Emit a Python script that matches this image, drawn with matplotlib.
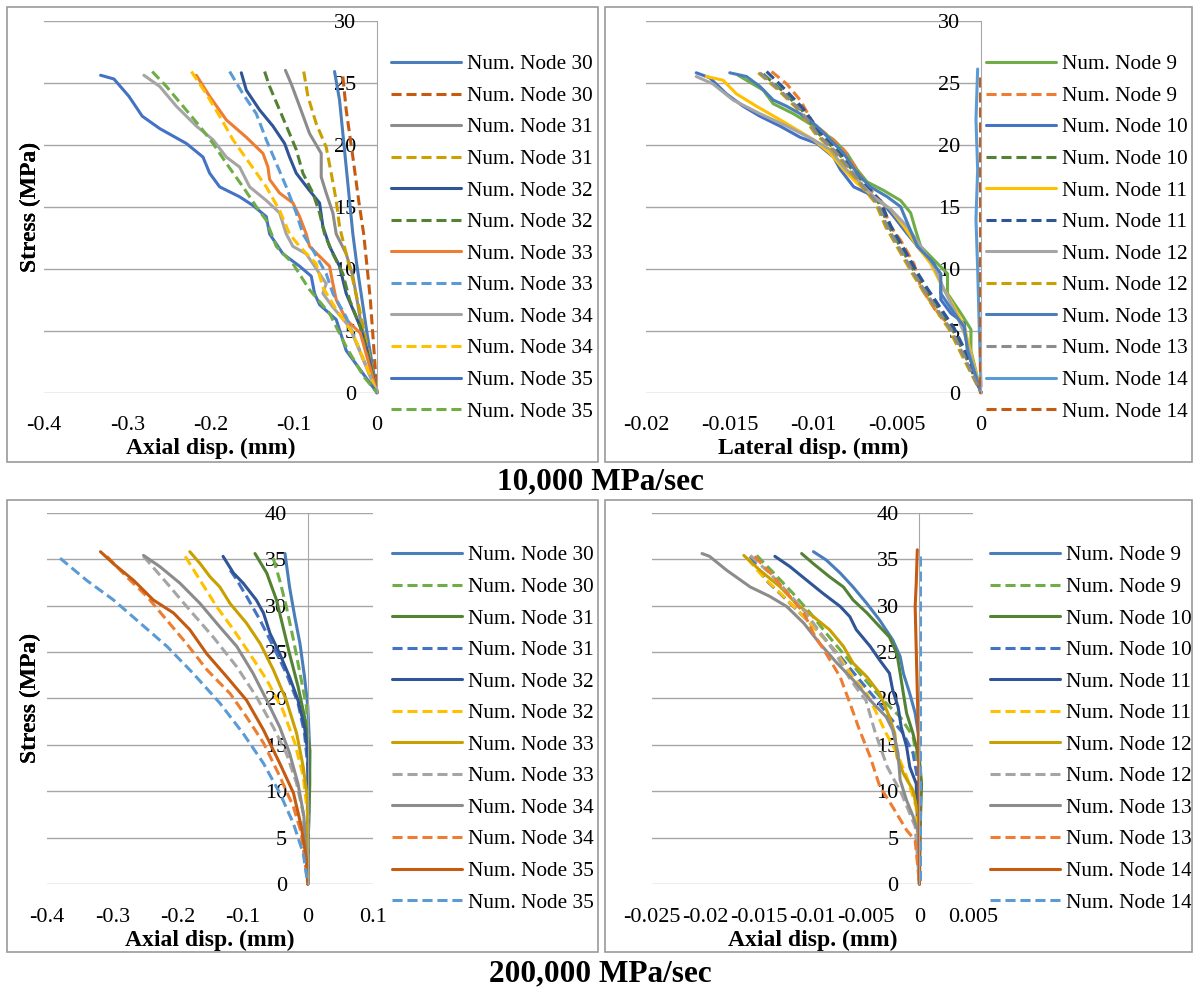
import matplotlib
matplotlib.use('Agg')
import matplotlib.pyplot as plt
from matplotlib.patches import Rectangle

plt.rcParams['font.family'] = 'Liberation Serif'

W, H = 1198, 990

# colours (Excel style)
c_steel = '#4A7EBB'
c_dkorange = '#C55A11'
c_gray = '#8C8C8C'
c_ltgray = '#A5A5A5'
c_gold = '#C9A000'
c_navy = '#2F5597'
c_dkgreen = '#548235'
c_orange = '#ED7D31'
c_ltblue = '#5B9BD5'
c_yellow = '#FFC000'
c_blue = '#4472C4'
c_green = '#70AD47'

# ---------------- 10,000 MPa/sec, axial disp (nodes 30-35) ----------------
a1_n30s_x = [-0.051, -0.045, -0.041, -0.037, -0.033, -0.029, -0.024, -0.018, -0.012, 0]
a1_n30s_y = [25.9, 23.6, 20.9, 18.2, 15.5, 12.8, 10.2, 7.5, 4.8, 0]
a1_n30d_x = [-0.041, -0.037, -0.029, -0.022, -0.016, -0.012, -0.008, 0]
a1_n30d_y = [25.5, 22.8, 19.0, 15.5, 12.8, 10.2, 7.5, 0]
a1_n31s_x = [-0.110, -0.103, -0.093, -0.081, -0.067, -0.067, -0.061, -0.053, -0.049, -0.037, -0.029, -0.024, -0.020, 0]
a1_n31s_y = [26.0, 24.9, 23.1, 20.9, 19.3, 17.4, 16.1, 14.5, 12.8, 11.2, 9.4, 7.5, 5.9, 0]
a1_n31d_x = [-0.088, -0.083, -0.073, -0.061, -0.055, -0.049, -0.045, -0.037, -0.029, -0.020, 0]
a1_n31d_y = [25.9, 23.9, 21.7, 19.8, 17.7, 15.5, 13.4, 11.2, 9.1, 6.4, 0]
a1_n32s_x = [-0.163, -0.157, -0.141, -0.125, -0.111, -0.105, -0.097, -0.081, -0.069, -0.065, -0.057, -0.045, -0.037, -0.020, -0.012, 0]
a1_n32s_y = [25.8, 24.4, 22.8, 21.5, 20.1, 19.0, 17.7, 16.3, 15.3, 13.4, 11.8, 10.2, 8.0, 5.3, 3.4, 0]
a1_n32d_x = [-0.135, -0.129, -0.117, -0.105, -0.097, -0.089, -0.077, -0.069, -0.063, -0.053, -0.041, -0.033, -0.020, 0]
a1_n32d_y = [25.9, 24.7, 22.8, 20.9, 19.6, 17.7, 16.1, 14.5, 12.8, 11.2, 9.6, 7.5, 5.3, 0]
a1_n33s_x = [-0.217, -0.201, -0.181, -0.157, -0.137, -0.131, -0.129, -0.117, -0.101, -0.093, -0.085, -0.081, -0.069, -0.057, -0.053, -0.049, -0.037, -0.020, 0]
a1_n33s_y = [25.6, 23.9, 22.0, 20.6, 19.3, 18.2, 17.2, 16.1, 15.3, 14.2, 12.8, 11.8, 11.0, 10.2, 8.8, 7.5, 5.9, 4.8, 0]
a1_n33d_x = [-0.177, -0.161, -0.145, -0.133, -0.121, -0.109, -0.097, -0.089, -0.077, -0.061, -0.053, -0.037, 0]
a1_n33d_y = [25.9, 24.1, 22.5, 20.4, 18.5, 16.6, 14.5, 12.8, 11.5, 9.6, 8.0, 6.1, 0]
a1_n34s_x = [-0.280, -0.261, -0.241, -0.217, -0.197, -0.181, -0.165, -0.153, -0.133, -0.117, -0.109, -0.101, -0.085, -0.061, -0.065, -0.053, -0.033, 0]
a1_n34s_y = [25.6, 24.7, 23.1, 21.5, 20.4, 19.0, 18.2, 16.6, 15.5, 14.5, 12.8, 11.8, 11.2, 8.8, 8.0, 6.9, 5.3, 0]
a1_n34d_x = [-0.223, -0.205, -0.189, -0.173, -0.153, -0.133, -0.117, -0.105, -0.093, -0.073, -0.065, -0.049, -0.029, 0]
a1_n34d_y = [25.9, 24.1, 22.3, 20.4, 18.5, 16.6, 14.7, 12.8, 11.8, 10.4, 8.5, 6.7, 4.8, 0]
a1_n35s_x = [-0.332, -0.316, -0.298, -0.282, -0.261, -0.229, -0.209, -0.201, -0.189, -0.165, -0.149, -0.133, -0.129, -0.113, -0.093, -0.079, -0.075, -0.069, -0.049, -0.037, 0]
a1_n35s_y = [25.6, 25.3, 23.9, 22.3, 21.3, 20.1, 19.0, 17.7, 16.6, 15.8, 15.1, 14.2, 12.8, 11.2, 10.2, 9.4, 8.0, 7.1, 5.9, 3.4, 0]
a1_n35d_x = [-0.270, -0.253, -0.233, -0.213, -0.197, -0.181, -0.161, -0.145, -0.133, -0.121, -0.101, -0.081, -0.057, -0.037, -0.016, 0]
a1_n35d_y = [25.9, 24.7, 23.1, 21.5, 20.1, 18.5, 16.6, 15.0, 13.9, 11.8, 10.4, 8.3, 6.4, 3.7, 1.3, 0]

# ---------------- 10,000 MPa/sec, lateral disp (nodes 9-14) ----------------
l1_n9s_x = [-0.0145, -0.0130, -0.0124, -0.0112, -0.0100, -0.0088, -0.0080, -0.0074, -0.0068, -0.0058, -0.0048, -0.0042, -0.0039, -0.0036, -0.0028, -0.0020, -0.0020, -0.0012, -0.0006, -0.0006, 0]
l1_n9s_y = [25.6, 24.4, 23.3, 22.5, 21.5, 20.4, 19.3, 18.0, 17.0, 16.3, 15.5, 14.5, 13.1, 11.8, 10.7, 9.6, 8.0, 6.4, 5.1, 3.4, 0]
l1_n9d_x = [-0.0125, -0.0116, -0.0108, -0.0100, -0.0090, -0.0082, -0.0074, -0.0068, -0.0060, -0.0054, -0.0048, -0.0040, -0.0036, -0.0026, -0.0016, -0.0008, 0]
l1_n9d_y = [25.9, 24.9, 23.6, 21.7, 20.6, 19.6, 18.0, 16.6, 15.5, 13.4, 12.3, 10.4, 8.5, 6.4, 5.1, 2.6, 0]
l1_n10s_x = [-0.0170, -0.0162, -0.0152, -0.0142, -0.0132, -0.0120, -0.0108, -0.0098, -0.0088, -0.0084, -0.0076, -0.0068, -0.0060, -0.0052, -0.0044, -0.0036, -0.0028, -0.0024, -0.0024, -0.0018, -0.0010, -0.0008, 0]
l1_n10s_y = [25.8, 25.4, 24.1, 23.1, 22.3, 21.5, 20.6, 20.1, 19.0, 18.0, 16.6, 16.1, 15.5, 14.2, 12.8, 11.5, 10.4, 8.8, 7.5, 6.4, 5.6, 3.4, 0]
l1_n10d_x = [-0.0130, -0.0119, -0.0107, -0.0097, -0.0087, -0.0077, -0.0069, -0.0061, -0.0055, -0.0047, -0.0039, -0.0033, -0.0025, -0.0017, -0.0009, 0]
l1_n10d_y = [25.7, 24.4, 22.8, 20.9, 19.6, 18.0, 16.6, 15.3, 13.4, 11.5, 9.6, 8.3, 6.7, 5.1, 2.9, 0]
l1_n11s_x = [-0.0164, -0.0154, -0.0146, -0.0134, -0.0116, -0.0100, -0.0090, -0.0082, -0.0074, -0.0064, -0.0054, -0.0046, -0.0038, -0.0030, -0.0024, -0.0016, -0.0010, 0]
l1_n11s_y = [25.5, 25.2, 24.1, 23.1, 21.7, 20.4, 19.3, 18.0, 16.9, 15.8, 14.8, 13.4, 11.8, 10.4, 8.8, 6.9, 5.3, 0]
l1_n11d_x = [-0.0128, -0.0118, -0.0106, -0.0096, -0.0086, -0.0076, -0.0068, -0.0060, -0.0054, -0.0046, -0.0038, -0.0032, -0.0024, -0.0016, -0.0008, 0]
l1_n11d_y = [25.9, 24.6, 22.9, 21.0, 19.7, 18.1, 16.7, 15.4, 13.5, 11.6, 9.7, 8.4, 6.8, 5.2, 3.0, 0]
l1_n12s_x = [-0.0170, -0.0160, -0.0148, -0.0132, -0.0116, -0.0100, -0.0090, -0.0082, -0.0074, -0.0064, -0.0054, -0.0044, -0.0036, -0.0028, -0.0022, -0.0016, -0.0010, 0]
l1_n12s_y = [25.5, 24.9, 23.6, 22.5, 21.5, 20.4, 19.6, 18.2, 17.2, 15.8, 14.8, 13.4, 11.8, 10.2, 8.3, 6.7, 4.8, 0]
l1_n12d_x = [-0.0133, -0.0121, -0.0109, -0.0099, -0.0089, -0.0079, -0.0071, -0.0063, -0.0057, -0.0049, -0.0041, -0.0035, -0.0027, -0.0019, -0.0011, 0]
l1_n12d_y = [25.8, 24.4, 22.8, 20.9, 19.6, 18.0, 16.6, 15.3, 13.4, 11.5, 9.6, 8.3, 6.7, 5.1, 2.9, 0]
l1_n13s_x = [-0.0150, -0.0140, -0.0132, -0.0124, -0.0116, -0.0108, -0.0098, -0.0090, -0.0082, -0.0074, -0.0066, -0.0056, -0.0048, -0.0044, -0.0038, -0.0030, -0.0024, -0.0024, -0.0016, -0.0010, -0.0008, 0]
l1_n13s_y = [25.8, 25.5, 24.7, 23.6, 23.1, 22.5, 21.5, 20.4, 19.3, 17.7, 16.6, 15.8, 15.0, 13.7, 11.8, 10.7, 9.6, 8.0, 6.4, 5.3, 3.4, 0]
l1_n13d_x = [-0.0132, -0.0120, -0.0108, -0.0098, -0.0088, -0.0078, -0.0070, -0.0062, -0.0056, -0.0048, -0.0040, -0.0034, -0.0026, -0.0018, -0.0010, 0]
l1_n13d_y = [25.8, 24.4, 22.8, 20.9, 19.6, 18.0, 16.6, 15.3, 13.4, 11.5, 9.6, 8.3, 6.7, 5.1, 2.9, 0]
l1_n14s_x = [-0.0002, -0.0003, -0.0002, -0.0003, -0.0002, -0.0001, 0]
l1_n14s_y = [26.1, 22.0, 18.0, 14.0, 10.0, 5.0, 0.5]
l1_n14d_x = [-0.00008, -0.00008]
l1_n14d_y = [25.5, 0]

# ---------------- 200,000 MPa/sec, axial disp (nodes 30-35) ----------------
a2_n30s_x = [-0.035, -0.028, -0.020, -0.012, -0.005, 0.0, 0.003, 0.001, 0]
a2_n30s_y = [35.6, 32.0, 28.8, 25.9, 22.3, 19.1, 14.4, 5.5, 0]
a2_n30d_x = [-0.053, -0.043, -0.033, -0.022, -0.012, -0.002, 0.002, 0.001, 0]
a2_n30d_y = [35.1, 32.7, 29.9, 26.3, 22.7, 19.1, 14.4, 5.5, 0]
a2_n31s_x = [-0.081, -0.063, -0.048, -0.038, -0.028, -0.015, -0.005, 0.003, 0.003, 0.001, 0]
a2_n31s_y = [35.6, 33.5, 30.6, 27.7, 24.8, 21.3, 18.0, 14.4, 10.8, 5.5, 0]
a2_n31d_x = [-0.119, -0.112, -0.094, -0.073, -0.053, -0.033, -0.015, -0.005, 0, 0]
a2_n31d_y = [33.8, 33.1, 31.0, 28.4, 25.6, 22.7, 19.5, 16.2, 12.6, 0]
a2_n32s_x = [-0.130, -0.114, -0.099, -0.079, -0.068, -0.058, -0.043, -0.028, -0.015, -0.005, 0, 0]
a2_n32s_y = [35.3, 33.5, 32.4, 30.6, 29.2, 27.0, 24.8, 22.3, 19.8, 16.9, 14.1, 0]
a2_n32d_x = [-0.188, -0.165, -0.140, -0.114, -0.089, -0.063, -0.038, -0.020, -0.007, 0, 0]
a2_n32d_y = [35.3, 32.7, 29.9, 27.4, 24.8, 22.0, 18.7, 15.2, 11.6, 7.3, 0]
a2_n33s_x = [-0.181, -0.165, -0.150, -0.135, -0.119, -0.094, -0.073, -0.053, -0.033, -0.017, -0.007, 0, 0]
a2_n33s_y = [35.8, 34.5, 33.1, 32.0, 30.2, 28.1, 25.9, 23.1, 19.8, 16.2, 12.6, 9.0, 0]
a2_n33d_x = [-0.252, -0.216, -0.181, -0.145, -0.109, -0.079, -0.053, -0.033, -0.017, -0.007, 0]
a2_n33d_y = [35.3, 32.4, 29.5, 26.6, 23.4, 20.2, 16.9, 14.1, 10.8, 7.6, 0]
a2_n34s_x = [-0.252, -0.227, -0.196, -0.165, -0.135, -0.109, -0.084, -0.063, -0.043, -0.028, -0.015, -0.006, 0]
a2_n34s_y = [35.4, 34.2, 32.4, 30.2, 27.7, 25.6, 22.7, 19.8, 16.9, 14.1, 10.8, 7.3, 0]
a2_n34d_x = [-0.308, -0.278, -0.247, -0.216, -0.186, -0.155, -0.119, -0.094, -0.068, -0.043, -0.022, -0.010, 0]
a2_n34d_y = [35.3, 33.1, 31.0, 28.4, 25.9, 23.1, 20.5, 18.0, 15.2, 11.6, 8.3, 5.5, 0]
a2_n35s_x = [-0.318, -0.298, -0.267, -0.237, -0.206, -0.181, -0.155, -0.124, -0.094, -0.068, -0.043, -0.022, -0.010, -0.002, 0]
a2_n35s_y = [35.8, 34.5, 32.7, 30.6, 29.2, 27.4, 24.8, 22.3, 19.8, 16.6, 13.0, 9.8, 6.2, 2.6, 0]
a2_n35d_x = [-0.380, -0.339, -0.298, -0.257, -0.216, -0.176, -0.135, -0.099, -0.068, -0.043, -0.022, -0.007, 0]
a2_n35d_y = [35.1, 32.7, 30.6, 28.1, 25.6, 22.7, 19.5, 16.2, 13.0, 9.8, 6.5, 3.3, 0]

# ---------------- 200,000 MPa/sec, axial disp (nodes 9-14) ----------------
b2_n9s_x = [-0.0099, -0.0087, -0.0074, -0.0062, -0.0049, -0.0037, -0.0025, -0.0018, -0.0015, -0.0009, -0.0004, -0.0001, 0, 0]
b2_n9s_y = [35.8, 34.9, 33.5, 32.0, 30.2, 28.4, 26.3, 24.5, 22.7, 20.5, 18.4, 16.2, 12.6, 0]
b2_n9d_x = [-0.0152, -0.0136, -0.0118, -0.0102, -0.0087, -0.0071, -0.0053, -0.0034, -0.0018, -0.0006, -0.0001, 0]
b2_n9d_y = [35.4, 33.5, 31.3, 29.2, 27.0, 24.8, 22.3, 19.8, 18.0, 15.9, 12.6, 0]
b2_n10s_x = [-0.0110, -0.0099, -0.0084, -0.0071, -0.0062, -0.0049, -0.0037, -0.0028, -0.0021, -0.0018, -0.0015, -0.0012, -0.0006, 0.0000, 0.0002, 0.0001, 0]
b2_n10s_y = [35.6, 34.5, 33.1, 32.0, 30.6, 29.2, 27.7, 26.6, 24.8, 22.7, 20.5, 18.4, 16.2, 13.4, 10.8, 7.3, 0]
b2_n10d_x = [-0.0158, -0.0143, -0.0124, -0.0108, -0.0093, -0.0074, -0.0056, -0.0040, -0.0028, -0.0015, -0.0006, -0.0001, 0]
b2_n10d_y = [35.3, 32.7, 30.6, 28.8, 27.0, 24.5, 22.0, 19.8, 18.0, 16.2, 14.1, 10.8, 0]
b2_n11s_x = [-0.0135, -0.0121, -0.0105, -0.0090, -0.0074, -0.0065, -0.0059, -0.0046, -0.0037, -0.0028, -0.0025, -0.0020, -0.0017, -0.0012, -0.0009, -0.0003, 0]
b2_n11s_y = [35.3, 34.2, 32.7, 31.3, 29.9, 28.8, 27.4, 25.6, 24.1, 22.7, 20.9, 19.1, 16.9, 14.8, 12.6, 10.8, 0]
b2_n11d_x = [-0.0161, -0.0146, -0.0127, -0.0108, -0.0093, -0.0077, -0.0062, -0.0049, -0.0040, -0.0031, -0.0021, -0.0012, -0.0003, 0]
b2_n11d_y = [35.1, 33.1, 31.0, 28.8, 27.0, 24.8, 22.3, 20.5, 18.4, 16.2, 14.1, 11.6, 8.3, 0]
b2_n12s_x = [-0.0164, -0.0149, -0.0130, -0.0115, -0.0099, -0.0084, -0.0071, -0.0062, -0.0049, -0.0037, -0.0028, -0.0023, -0.0021, -0.0015, -0.0006, -0.0001, 0]
b2_n12s_y = [35.4, 33.8, 32.0, 30.2, 28.8, 27.4, 25.6, 23.8, 22.3, 20.5, 18.0, 16.2, 13.7, 11.9, 10.1, 7.3, 0]
b2_n12d_x = [-0.0158, -0.0140, -0.0122, -0.0106, -0.0092, -0.0078, -0.0066, -0.0055, -0.0050, -0.0041, -0.0030, -0.0017, -0.0004, 0]
b2_n12d_y = [35.4, 33.5, 31.3, 29.2, 27.0, 24.8, 22.3, 20.5, 19.8, 16.2, 12.6, 9.8, 6.2, 0]
b2_n13s_x = [-0.0203, -0.0196, -0.0180, -0.0158, -0.0140, -0.0124, -0.0108, -0.0093, -0.0077, -0.0062, -0.0046, -0.0031, -0.0025, -0.0020, -0.0018, -0.0012, -0.0006, -0.0001, 0]
b2_n13s_y = [35.6, 35.3, 33.8, 32.0, 31.0, 29.9, 28.1, 25.9, 23.8, 22.0, 19.8, 18.0, 16.6, 14.1, 11.2, 9.0, 7.3, 5.5, 0]
b2_n13d_x = [-0.0154, -0.0136, -0.0121, -0.0108, -0.0099, -0.0087, -0.0074, -0.0065, -0.0056, -0.0046, -0.0037, -0.0025, -0.0012, -0.0004, 0]
b2_n13d_y = [35.3, 33.1, 31.0, 29.2, 27.0, 24.8, 22.3, 19.5, 16.6, 13.7, 10.5, 8.3, 5.8, 4.7, 0]
b2_n14s_x = [-0.0002, -0.0003, -0.0004, -0.0003, -0.0001, 0, 0]
b2_n14s_y = [36.0, 32.4, 29.9, 25.2, 16.2, 5.5, 0]
b2_n14d_x = [0.00005, 0.00005]
b2_n14d_y = [35.3, 0]

# axis ticks
p1_xticks = [-0.4, -0.3, -0.2, -0.1, 0]
p1_xlabels = ['-0.4', '-0.3', '-0.2', '-0.1', '0']
p2_xticks = [-0.02, -0.015, -0.01, -0.005, 0]
p2_xlabels = ['-0.02', '-0.015', '-0.01', '-0.005', '0']
p3_xticks = [-0.4, -0.3, -0.2, -0.1, 0, 0.1]
p3_xlabels = ['-0.4', '-0.3', '-0.2', '-0.1', '0', '0.1']
p4_xticks = [-0.025, -0.02, -0.015, -0.01, -0.005, 0, 0.005]
p4_xlabels = ['-0.025', '-0.02', '-0.015', '-0.01', '-0.005', '0', '0.005']
y_ticks_30 = [0, 5, 10, 15, 20, 25, 30]
y_ticks_40 = [0, 5, 10, 15, 20, 25, 30, 35, 40]

DASH = (0, (3.3, 1.6))

series1 = [
    ('Num. Node 30', a1_n30s_x, a1_n30s_y, c_steel, False),
    ('Num. Node 30', a1_n30d_x, a1_n30d_y, c_dkorange, True),
    ('Num. Node 31', a1_n31s_x, a1_n31s_y, c_gray, False),
    ('Num. Node 31', a1_n31d_x, a1_n31d_y, c_gold, True),
    ('Num. Node 32', a1_n32s_x, a1_n32s_y, c_navy, False),
    ('Num. Node 32', a1_n32d_x, a1_n32d_y, c_dkgreen, True),
    ('Num. Node 33', a1_n33s_x, a1_n33s_y, c_orange, False),
    ('Num. Node 33', a1_n33d_x, a1_n33d_y, c_ltblue, True),
    ('Num. Node 34', a1_n34s_x, a1_n34s_y, c_ltgray, False),
    ('Num. Node 34', a1_n34d_x, a1_n34d_y, c_yellow, True),
    ('Num. Node 35', a1_n35s_x, a1_n35s_y, c_blue, False),
    ('Num. Node 35', a1_n35d_x, a1_n35d_y, c_green, True),
]
series2 = [
    ('Num. Node 9', l1_n9s_x, l1_n9s_y, c_green, False),
    ('Num. Node 9', l1_n9d_x, l1_n9d_y, c_orange, True),
    ('Num. Node 10', l1_n10s_x, l1_n10s_y, c_blue, False),
    ('Num. Node 10', l1_n10d_x, l1_n10d_y, c_dkgreen, True),
    ('Num. Node 11', l1_n11s_x, l1_n11s_y, c_yellow, False),
    ('Num. Node 11', l1_n11d_x, l1_n11d_y, c_navy, True),
    ('Num. Node 12', l1_n12s_x, l1_n12s_y, c_ltgray, False),
    ('Num. Node 12', l1_n12d_x, l1_n12d_y, c_gold, True),
    ('Num. Node 13', l1_n13s_x, l1_n13s_y, c_steel, False),
    ('Num. Node 13', l1_n13d_x, l1_n13d_y, c_gray, True),
    ('Num. Node 14', l1_n14s_x, l1_n14s_y, c_ltblue, False),
    ('Num. Node 14', l1_n14d_x, l1_n14d_y, c_dkorange, True),
]
series3 = [
    ('Num. Node 30', a2_n30s_x, a2_n30s_y, c_steel, False),
    ('Num. Node 30', a2_n30d_x, a2_n30d_y, c_green, True),
    ('Num. Node 31', a2_n31s_x, a2_n31s_y, c_dkgreen, False),
    ('Num. Node 31', a2_n31d_x, a2_n31d_y, c_blue, True),
    ('Num. Node 32', a2_n32s_x, a2_n32s_y, c_navy, False),
    ('Num. Node 32', a2_n32d_x, a2_n32d_y, c_yellow, True),
    ('Num. Node 33', a2_n33s_x, a2_n33s_y, c_gold, False),
    ('Num. Node 33', a2_n33d_x, a2_n33d_y, c_ltgray, True),
    ('Num. Node 34', a2_n34s_x, a2_n34s_y, c_gray, False),
    ('Num. Node 34', a2_n34d_x, a2_n34d_y, c_orange, True),
    ('Num. Node 35', a2_n35s_x, a2_n35s_y, c_dkorange, False),
    ('Num. Node 35', a2_n35d_x, a2_n35d_y, c_ltblue, True),
]
series4 = [
    ('Num. Node 9', b2_n9s_x, b2_n9s_y, c_steel, False),
    ('Num. Node 9', b2_n9d_x, b2_n9d_y, c_green, True),
    ('Num. Node 10', b2_n10s_x, b2_n10s_y, c_dkgreen, False),
    ('Num. Node 10', b2_n10d_x, b2_n10d_y, c_blue, True),
    ('Num. Node 11', b2_n11s_x, b2_n11s_y, c_navy, False),
    ('Num. Node 11', b2_n11d_x, b2_n11d_y, c_yellow, True),
    ('Num. Node 12', b2_n12s_x, b2_n12s_y, c_gold, False),
    ('Num. Node 12', b2_n12d_x, b2_n12d_y, c_ltgray, True),
    ('Num. Node 13', b2_n13s_x, b2_n13s_y, c_gray, False),
    ('Num. Node 13', b2_n13d_x, b2_n13d_y, c_orange, True),
    ('Num. Node 14', b2_n14s_x, b2_n14s_y, c_dkorange, False),
    ('Num. Node 14', b2_n14d_x, b2_n14d_y, c_ltblue, True),
]

fig = plt.figure(figsize=(W / 100, H / 100), dpi=100)


def px_axes(left, top, right, bottom):
    return fig.add_axes([left / W, 1 - bottom / H, (right - left) / W, (bottom - top) / H])


def draw_panel(ax, px, series, xlim, xticks, xlabels, ylim, yticks, xlabel, leg_left, leg_top):
    left, top, right, bottom = px
    for lab, xs, ys, col, dashed in series:
        ax.plot(xs, ys, color=col, lw=2.2, ls=DASH if dashed else '-',
                label=lab, clip_on=False, solid_capstyle='round')
    ax.set_xlim(xlim)
    ax.set_ylim(ylim)
    ax.set_xticks(xticks)
    ax.set_xticklabels(xlabels)
    ax.set_yticks(yticks)
    ax.grid(axis='y', color='#A6A6A6', lw=1.0)
    ax.set_axisbelow(True)
    for s in ['top', 'right', 'bottom']:
        ax.spines[s].set_visible(False)
    ax.spines['left'].set_position(('data', 0))
    ax.spines['left'].set_color('#A6A6A6')
    ax.tick_params(axis='both', length=0, labelsize=16)
    ax.tick_params(axis='x', pad=17)
    ax.tick_params(axis='y', pad=15)
    ax.set_xlabel(xlabel, fontsize=17, fontweight='bold', va='center')
    ax.set_ylabel('Stress (MPa)', fontsize=17, fontweight='bold', va='center')
    ax.yaxis.set_label_coords((30 - left) / (right - left), 0.5)
    ax.xaxis.set_label_coords(0.5, -56.0 / (bottom - top))
    ax.legend(loc='upper left', bbox_to_anchor=(leg_left / W, 1 - leg_top / H),
              bbox_transform=fig.transFigure, frameon=False, fontsize=15.3,
              borderpad=0, borderaxespad=0, handlelength=3.3, handletextpad=0.28,
              labelspacing=0.55)


# panel borders
for (l, t, r, b) in [(7, 7, 598, 462), (605, 7, 1192, 462), (7, 500, 598, 952), (605, 500, 1192, 952)]:
    fig.patches.append(Rectangle((l / W, 1 - b / H), (r - l) / W, (b - t) / H,
                                 transform=fig.transFigure, fill=False,
                                 edgecolor='#9A9A9A', lw=1.2))

px1 = (44, 20.7, 377, 392.7)
ax1 = px_axes(*px1)
draw_panel(ax1, px1, series1, (-0.4, 0), p1_xticks, p1_xlabels, (0, 30), y_ticks_30,
           'Axial disp. (mm)', 391, 54.5)

px2 = (646, 20.7, 981, 392.7)
ax2 = px_axes(*px2)
draw_panel(ax2, px2, series2, (-0.02, 0), p2_xticks, p2_xlabels, (0, 30), y_ticks_30,
           'Lateral disp. (mm)', 986, 54.5)

px3 = (47, 512.7, 373, 884)
ax3 = px_axes(*px3)
draw_panel(ax3, px3, series3, (-0.4, 0.1), p3_xticks, p3_xlabels, (0, 40), y_ticks_40,
           'Axial disp. (mm)', 391.7, 545.5)

px4 = (651.7, 512.7, 973, 884)
ax4 = px_axes(*px4)
draw_panel(ax4, px4, series4, (-0.025, 0.005), p4_xticks, p4_xlabels, (0, 40), y_ticks_40,
           'Axial disp. (mm)', 990, 545.5)

fig.text(600 / W, 1 - 481.5 / H, '10,000 MPa/sec', ha='center', va='center',
         fontsize=22.5, fontweight='bold')
fig.text(600 / W, 1 - 974 / H, '200,000 MPa/sec', ha='center', va='center',
         fontsize=22.5, fontweight='bold')

fig.savefig('out.png', dpi=100)
